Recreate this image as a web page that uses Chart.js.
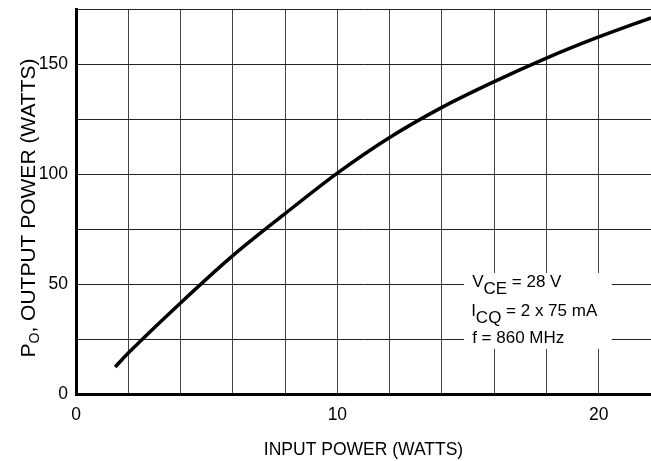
<!DOCTYPE html>
<html>
<head>
<meta charset="utf-8">
<script src="https://cdn.jsdelivr.net/npm/chart.js@4/dist/chart.umd.min.js"></script>
<style>
  html, body { margin: 0; padding: 0; background: #fff; }
  #wrap { width: 651px; height: 461px; }
</style>
</head>
<body>
<div id="wrap"><canvas id="powerChart" width="651" height="461"></canvas></div>
<script>
// Data
const inputPower = [1.5, 2, 4, 6, 8, 10, 12, 14, 16, 18, 20, 22];
const outputPower = [12.3, 18.6, 41.4, 62.9, 82, 100.4, 116.6, 130.3, 142, 152.7, 162.3, 171];

// Tick labels (grid every 2 W / 25 W, labels only on these)
const xTickLabels = [0, 10, 20];
const yTickLabels = [0, 50, 100, 150];

// Note box lines: [main, subscript, rest]
const noteLines = [
  ['V', 'CE', ' = 28 V'],
  ['I', 'CQ', ' = 2 x 75 mA'],
  ['f', '', ' = 860 MHz']
];

const FONT = '"Liberation Sans", Arial, Helvetica, sans-serif';

// Draw titles and the note box by hand (they need subscripts)
const textPlugin = {
  id: 'textPlugin',
  beforeDatasetsDraw(chart) {
    const { ctx, scales: { x, y } } = chart;
    const left = x.getPixelForValue(14.85);
    const right = x.getPixelForValue(20.5);
    const top = y.getPixelForValue(55);
    const bottom = y.getPixelForValue(20.5);

    ctx.save();
    ctx.fillStyle = '#fff';
    ctx.fillRect(left, top, right - left, bottom - top);

    ctx.fillStyle = '#000';
    ctx.font = '17px ' + FONT;
    ctx.textBaseline = 'alphabetic';
    ctx.textAlign = 'left';
    const offsets = [14, 43, 70];
    const indents = [8, 7, 8];
    noteLines.forEach((parts, i) => {
      let tx = left + indents[i];
      const by = top + offsets[i];
      ctx.fillText(parts[0], tx, by);
      tx += ctx.measureText(parts[0]).width;
      if (parts[1]) {
        ctx.fillText(parts[1], tx, by + 7);
        tx += ctx.measureText(parts[1]).width;
      }
      ctx.fillText(parts[2], tx, by);
    });
    ctx.restore();
  },
  afterDraw(chart) {
    const { ctx, chartArea } = chart;
    ctx.save();
    ctx.fillStyle = '#000';
    ctx.textBaseline = 'alphabetic';

    // x title
    ctx.font = '17.5px ' + FONT;
    ctx.textAlign = 'center';
    ctx.fillText('INPUT POWER (WATTS)', (chartArea.left + chartArea.right) / 2, 455);

    // y title (rotated, with subscript O)
    ctx.translate(35, 208);
    ctx.rotate(-Math.PI / 2);
    ctx.textAlign = 'left';
    const big = '21px ' + FONT;
    const small = '14px ' + FONT;
    const rest = ', OUTPUT POWER (WATTS)';
    ctx.font = big;
    const wP = ctx.measureText('P').width;
    const wRest = ctx.measureText(rest).width;
    ctx.font = small;
    const wO = ctx.measureText('O').width;
    let tx = -(wP + wO + wRest) / 2;
    ctx.font = big;
    ctx.fillText('P', tx, 0);
    tx += wP;
    ctx.font = small;
    ctx.fillText('O', tx, 4);
    tx += wO;
    ctx.font = big;
    ctx.fillText(rest, tx, 0);
    ctx.restore();
  }
};

const ctx = document.getElementById('powerChart').getContext('2d');
new Chart(ctx, {
  type: 'line',
  data: {
    datasets: [{
      data: inputPower.map((v, i) => ({ x: v, y: outputPower[i] })),
      borderColor: '#000',
      borderWidth: 3.5,
      pointRadius: 0,
      fill: false,
      cubicInterpolationMode: 'monotone'
    }]
  },
  options: {
    responsive: false,
    animation: false,
    devicePixelRatio: 1,
    layout: { padding: { top: 9, right: 0, bottom: 0, left: 0 } },
    plugins: { legend: { display: false }, tooltip: { enabled: false } },
    scales: {
      x: {
        type: 'linear',
        min: 0,
        max: 22,
        afterFit(scale) {
          scale.height = 67;
          scale.paddingLeft = 0;
          scale.paddingRight = 0;
        },
        grid: { color: '#444', lineWidth: 1, drawTicks: false },
        border: { color: '#000', width: 3 },
        ticks: {
          stepSize: 2,
          autoSkip: false,
          maxRotation: 0,
          padding: 11,
          color: '#000',
          font: { family: FONT, size: 17.5 },
          callback: v => xTickLabels.includes(v) ? v : ''
        }
      },
      y: {
        min: 0,
        max: 175,
        afterFit(scale) {
          scale.width = 76;
          scale.paddingTop = 0;
          scale.paddingBottom = 0;
        },
        grid: { color: '#222', lineWidth: 1, drawTicks: false },
        border: { color: '#000', width: 3 },
        ticks: {
          stepSize: 25,
          autoSkip: false,
          padding: 8,
          color: '#000',
          font: { family: FONT, size: 17.5 },
          callback: v => yTickLabels.includes(v) ? v : ''
        }
      }
    }
  },
  plugins: [textPlugin]
});
</script>
</body>
</html>
